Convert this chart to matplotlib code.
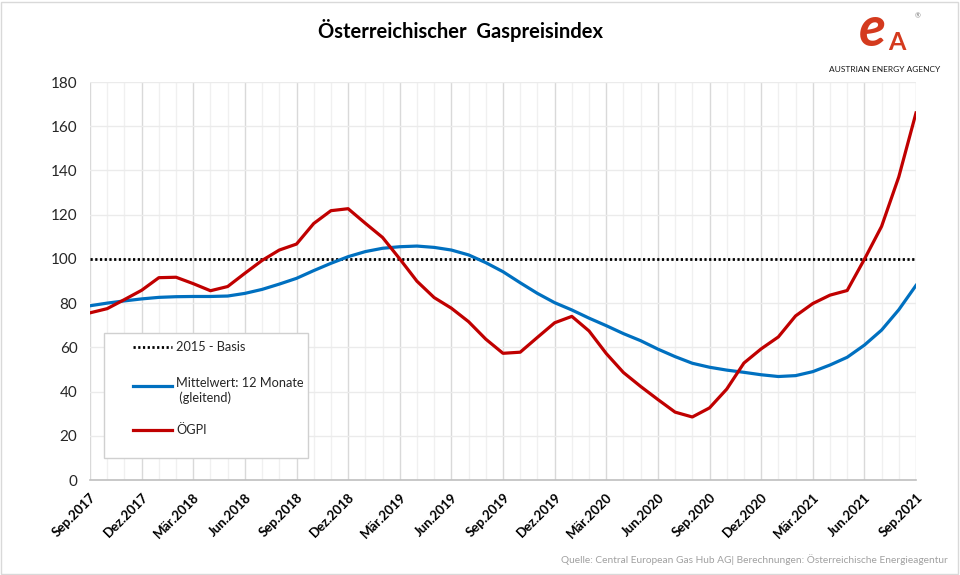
import matplotlib
matplotlib.use("Agg")
import matplotlib.pyplot as plt
from matplotlib.patches import Rectangle
from matplotlib.ticker import MultipleLocator

# ---- data (Sep 2017 .. Sep 2021, monthly) ----
oegpi = [75.6, 77.5, 81.6, 85.8, 91.5, 91.7, 88.8, 85.6, 87.5, 93.5,
         99.3, 104.0, 106.7, 116.0, 121.8, 122.7, 116.1, 109.7, 100.0, 89.9,
         82.5, 77.7, 71.6, 63.7, 57.3, 57.8, 64.5, 71.1, 74.0, 67.4,
         57.2, 48.6, 42.3, 36.4, 30.7, 28.5, 32.6, 41.1, 52.9, 59.3,
         64.7, 74.2, 79.8, 83.6, 85.7, 99.8, 114.7, 137.1, 166.0]
mittel = [78.8, 80.0, 81.0, 81.9, 82.6, 82.9, 83.0, 83.0, 83.2, 84.4,
          86.2, 88.6, 91.2, 94.7, 98.0, 101.0, 103.3, 104.8, 105.5, 105.8,
          105.2, 104.0, 101.8, 98.3, 94.2, 89.2, 84.4, 80.2, 76.9, 73.2,
          69.8, 66.2, 63.0, 59.2, 55.8, 52.8, 51.0, 49.7, 48.7, 47.6,
          46.8, 47.2, 49.0, 52.0, 55.5, 61.0, 67.8, 77.0, 88.0]
basis_value = 100
tick_labels = ["Sep.2017", "Dez.2017", "Mär.2018", "Jun.2018", "Sep.2018",
               "Dez.2018", "Mär.2019", "Jun.2019", "Sep.2019", "Dez.2019",
               "Mär.2020", "Jun.2020", "Sep.2020", "Dez.2020", "Mär.2021",
               "Jun.2021", "Sep.2021"]
legend_labels = ["2015 - Basis", "Mittelwert: 12 Monate\n (gleitend)", "ÖGPI"]
title = "Österreichischer  Gaspreisindex"
source = "Quelle: Central European Gas Hub AG| Berechnungen: Österreichische Energieagentur"

plt.rcParams['font.family'] = ['Lato', 'DejaVu Sans']

RED = "#C00000"
BLUE = "#0070C0"

fig = plt.figure(figsize=(9.6, 5.75), dpi=100)
ax = fig.add_axes([90/960, 1-480/575, 826/960, 398/575])

n = len(oegpi)
x = list(range(n))

# grid
for i in range(n):
    col = "#d9d9d9" if i % 3 == 0 else "#f0f0f0"
    ax.axvline(i, color=col, lw=1.0, zorder=0)
ax.yaxis.set_major_locator(MultipleLocator(20))
ax.grid(axis='y', color="#ebebeb", lw=1.0, zorder=0)
ax.set_axisbelow(True)

ax.plot([0, n-1], [basis_value, basis_value], color="black", lw=2.0,
        linestyle=(0, (0.8, 0.9)), dash_capstyle='butt', zorder=3)
ax.plot(x, mittel, color=BLUE, lw=2.3, zorder=4, solid_joinstyle='round')
ax.plot(x, oegpi, color=RED, lw=2.3, zorder=5, solid_joinstyle='round')

ax.set_xlim(0, n-1)
ax.set_ylim(0, 180)
for s in ['top', 'right', 'left']:
    ax.spines[s].set_visible(False)
ax.spines['bottom'].set_color("#bfbfbf")
ax.spines['bottom'].set_linewidth(1.2)

ax.set_xticks(list(range(0, n, 3)))
ax.set_xticklabels(tick_labels, rotation=45, ha='right', va='top',
                   rotation_mode='anchor', fontsize=9.5, fontweight='bold')
ax.tick_params(axis='x', length=0, pad=8)
ax.tick_params(axis='y', length=0, pad=9, labelsize=11, labelcolor="#262626")

# legend box (manual, Excel style)
ax.add_patch(Rectangle((0.017, 0.055), 0.247, 0.314, transform=ax.transAxes,
                       facecolor="white", edgecolor="#d0d0d0", lw=1.0, zorder=6))
ax.plot([0.052, 0.099], [0.334, 0.334], transform=ax.transAxes, color="black",
        lw=2.0, linestyle=(0, (0.8, 0.9)), dash_capstyle='butt', zorder=7)
ax.text(0.104, 0.334, legend_labels[0], transform=ax.transAxes, fontsize=9.2,
        va='center', ha='left', zorder=7, color="#262626")
ax.plot([0.052, 0.099], [0.236, 0.236], transform=ax.transAxes, color=BLUE,
        lw=2.3, zorder=7)
ax.text(0.104, 0.236 + 0.024, legend_labels[1], transform=ax.transAxes,
        fontsize=9.2, va='top', ha='left', zorder=7, color="#262626",
        linespacing=1.3)
ax.plot([0.052, 0.099], [0.126, 0.126], transform=ax.transAxes, color=RED,
        lw=2.3, zorder=7)
ax.text(0.104, 0.126, legend_labels[2], transform=ax.transAxes, fontsize=9.2,
        va='center', ha='left', zorder=7, color="#262626")

# title
fig.text(460/960, 1-30/575, title, ha='center', va='center', fontsize=14.5,
         fontweight='bold', color="black")

# logo approximation
fig.text(872/960, 1-30/575, "e", ha='center', va='center', fontsize=40,
         fontstyle='italic', fontweight='bold', color="#D43A1E")
fig.text(897/960, 1-43/575, "A", ha='center', va='center', fontsize=18,
         fontweight='bold', color="#D43A1E")
fig.text(918/960, 1-16/575, "®", ha='center', va='center', fontsize=5,
         color="#808080")
fig.text(885/960, 1-69/575, "AUSTRIAN ENERGY AGENCY", ha='center', va='center',
         fontsize=6, color="#1a1a1a")

# source
fig.text(948/960, 1-560/575, source, ha='right', va='center', fontsize=7.3,
         color="#a0a0a0")

# figure border
fig.patches.append(Rectangle((0.001, 0.002), 0.997, 0.995, transform=fig.transFigure,
                             fill=False, edgecolor="#d9d9d9", lw=1.0))

fig.savefig("out.png", dpi=100)
